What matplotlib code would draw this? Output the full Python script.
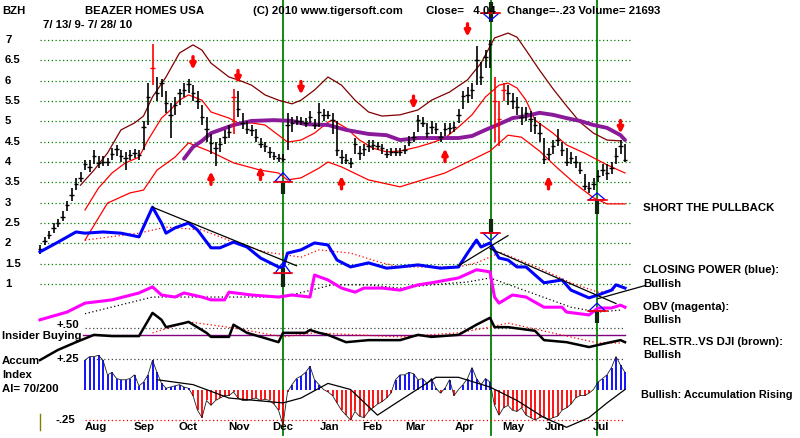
import numpy as np
import matplotlib.pyplot as plt

W, H = 800, 438

# --- Data (one bar every 2 sessions, 7/13/09 - 7/28/10) -------------------
bar_close = [1.85, 2.05, 2.2, 2.38, 2.5, 2.65, 2.95, 3.2, 3.45, 3.6,
             3.95, 3.88, 4.15, 3.97, 4.0, 4.0, 4.2, 4.32, 4.15, 4.1,
             4.17, 4.22, 4.17, 4.86, 5.6, 6.3, 5.7, 5.94, 5.45, 5.15,
             5.4, 5.7, 5.78, 5.92, 5.7, 5.5, 5.1, 4.8, 4.47, 4.35,
             4.45, 4.62, 4.75, 5.6, 5.3, 4.96, 4.82, 4.79, 4.62, 4.45,
             4.39, 4.25, 4.14, 4.1, 4.08, 4.9, 4.96, 5.02, 5.0, 4.96,
             5.1, 4.9, 5.22, 5.15, 5.15, 5.03, 4.3, 4.12, 4.06, 3.97,
             4.45, 4.22, 4.32, 4.4, 4.42, 4.4, 4.34, 4.2, 4.25, 4.25,
             4.25, 4.3, 4.5, 4.62, 5.03, 4.96, 4.72, 4.86, 4.8, 4.62,
             4.8, 4.84, 4.86, 5.15, 5.62, 5.65, 5.77, 6.5, 6.1, 6.58,
             6.9, 5.5, 5.05, 5.77, 5.7, 5.5, 5.35, 5.1, 5.2, 5.05,
             4.9, 4.72, 4.08, 4.2, 4.39, 4.55, 4.3, 4.0, 4.1, 4.0,
             3.8, 3.4, 3.35, 3.45, 3.65, 3.8, 3.73, 3.85, 4.15, 4.39, 4.04]
bar_high = [1.95, 2.15, 2.3, 2.5, 2.6, 2.8, 3.05, 3.35, 3.6, 3.75,
            4.05, 4.05, 4.3, 4.15, 4.15, 4.1, 4.35, 4.42, 4.3, 4.25,
            4.3, 4.32, 4.3, 5.0, 5.95, 6.9, 6.1, 6.05, 5.75, 5.45,
            5.6, 5.8, 5.95, 6.05, 5.9, 5.75, 5.4, 5.1, 4.7, 4.5,
            4.6, 4.78, 4.9, 5.8, 5.75, 5.2, 5.0, 4.92, 4.8, 4.6,
            4.5, 4.38, 4.25, 4.2, 4.2, 5.2, 5.1, 5.12, 5.1, 5.08,
            5.25, 5.05, 5.45, 5.3, 5.25, 5.2, 5.0, 4.3, 4.2, 4.1,
            4.6, 4.4, 4.45, 4.55, 4.55, 4.5, 4.45, 4.33, 4.35, 4.35,
            4.35, 4.42, 4.65, 4.75, 5.15, 5.1, 4.95, 5.0, 4.95, 4.75,
            4.95, 4.95, 4.98, 5.3, 5.75, 5.85, 5.95, 6.85, 6.45, 6.75,
            7.0, 6.1, 5.5, 5.95, 5.9, 5.7, 5.6, 5.35, 5.35, 5.25,
            5.1, 4.95, 4.6, 4.35, 4.55, 4.8, 4.5, 4.35, 4.25, 4.15,
            4.0, 3.7, 3.5, 3.6, 3.8, 3.95, 3.95, 4.0, 4.35, 4.55, 4.45]
bar_low = [1.75, 1.95, 2.1, 2.25, 2.4, 2.55, 2.8, 3.05, 3.3, 3.5,
           3.8, 3.75, 3.95, 3.85, 3.9, 3.9, 4.05, 4.15, 4.0, 3.8,
           4.05, 4.1, 4.05, 4.3, 4.9, 5.9, 5.5, 5.6, 5.2, 4.6,
           5.15, 5.4, 5.6, 5.7, 5.5, 5.3, 4.9, 4.5, 4.2, 3.9,
           4.25, 4.45, 4.6, 4.7, 5.1, 4.8, 4.7, 4.65, 4.5, 4.35,
           4.25, 4.1, 4.05, 4.0, 4.0, 4.3, 4.75, 4.9, 4.9, 4.85,
           4.95, 4.8, 4.85, 5.0, 5.05, 4.7, 4.15, 3.95, 3.95, 3.85,
           4.2, 4.05, 4.15, 4.25, 4.3, 4.3, 4.2, 4.1, 4.15, 4.15,
           4.15, 4.2, 4.4, 4.5, 4.75, 4.85, 4.6, 4.7, 4.7, 4.5,
           4.65, 4.7, 4.75, 4.95, 5.3, 5.45, 5.55, 5.9, 5.9, 6.3,
           6.3, 4.5, 4.4, 5.5, 5.4, 5.3, 5.15, 4.9, 5.0, 4.75,
           4.7, 4.5, 3.95, 4.05, 4.2, 4.4, 4.15, 3.9, 3.95, 3.85,
           3.7, 3.3, 3.25, 3.3, 3.5, 3.65, 3.55, 3.7, 3.95, 4.2, 4.0]
red_bars = [25, 43, 101, 102, 103]

upper_idx = [9, 12, 15, 18, 21, 23, 25, 28, 31, 34, 36, 38, 42, 44, 47, 50, 53, 56, 58, 61,
             64, 67, 70, 73, 76, 80, 84, 87, 91, 95, 98, 101, 104, 106, 108, 111, 114, 117,
             120, 123, 126, 129]
upper_val = [3.43, 3.80, 4.22, 4.79, 4.96, 5.13, 5.60, 6.09, 6.68, 6.88, 6.75, 6.43, 6.09, 6.02,
             5.89, 5.65, 5.52, 5.43, 5.52, 5.77, 6.09, 5.89, 5.52, 5.23, 5.13, 5.16, 5.28, 5.52,
             5.72, 6.02, 6.43, 7.05, 7.17, 7.07, 6.75, 6.26, 5.80, 5.38, 4.98, 4.71, 4.54, 4.52]
mid_idx = [10, 13, 16, 19, 22, 24, 27, 29, 31, 33, 36, 38, 42, 44, 47, 50, 53, 55, 58, 61, 64,
           65, 68, 71, 74, 77, 80, 84, 87, 90, 93, 96, 99, 102, 104, 106, 108, 110, 114, 117,
           121, 126, 130]
mid_val = [2.82, 3.36, 3.73, 3.98, 4.12, 4.54, 5.08, 5.28, 5.52, 5.65, 5.52, 5.23, 5.08, 4.96,
           4.96, 4.91, 4.66, 4.49, 4.54, 4.71, 4.98, 5.03, 4.84, 4.54, 4.34, 4.25, 4.27, 4.37,
           4.47, 4.59, 4.86, 5.16, 5.60, 5.89, 5.94, 5.82, 5.52, 5.03, 4.71, 4.42, 4.22, 3.93, 3.73]
lower_idx = [10, 15, 20, 23, 26, 30, 33, 38, 43, 49, 53, 55, 58, 62, 64, 67, 73, 80, 90, 100,
             104, 107, 111, 115, 119, 123, 126, 130]
lower_val = [2.08, 2.99, 3.24, 3.31, 3.80, 4.12, 4.47, 4.25, 3.98, 3.80, 3.73, 3.56, 3.61, 3.85,
             4.00, 3.88, 3.56, 3.39, 3.73, 4.27, 4.66, 4.61, 4.27, 3.85, 3.46, 3.12, 2.97, 2.97]
ma65_idx = [32, 34, 36, 38, 43, 47, 52, 56, 59, 64, 68, 73, 77, 80, 84, 89, 93, 96, 99, 102,
            105, 108, 111, 114, 117, 120, 123, 126, 129, 130]
ma65_val = [4.08, 4.37, 4.52, 4.71, 4.91, 5.01, 5.03, 5.01, 4.93, 4.91, 4.79, 4.69, 4.66, 4.54,
            4.59, 4.59, 4.59, 4.64, 4.79, 4.93, 5.08, 5.13, 5.21, 5.16, 5.08, 5.01, 4.91, 4.84,
            4.66, 4.54]

cp_idx = [0, 4, 8, 10, 14, 18, 22, 25, 27, 28, 30, 33, 35, 38, 40, 43, 46, 49, 53, 54, 55, 58,
          61, 64, 66, 69, 73, 77, 80, 84, 89, 93, 95, 97, 98, 100, 102, 104, 106, 108, 112, 116,
          118, 122, 124, 127, 128, 130]
cp_val = [1.79, 2.03, 2.28, 2.25, 2.28, 2.25, 2.16, 2.89, 2.50, 2.25, 2.38, 2.50, 2.33, 1.89,
          1.89, 2.03, 1.91, 1.64, 1.42, 1.40, 1.76, 1.84, 2.01, 1.96, 1.59, 1.42, 1.52, 1.39,
          1.42, 1.47, 1.39, 1.42, 1.76, 2.08, 1.91, 2.01, 1.64, 1.59, 1.42, 1.42, 1.03, 1.10,
          0.85, 0.66, 0.73, 0.85, 0.98, 0.90]
cp_ma_idx = [10, 22, 28, 36, 43, 50, 55, 58, 62, 69, 76, 80, 93, 97, 101, 102, 111, 118, 124, 128]
cp_ma_val = [2.08, 2.25, 2.40, 2.33, 2.03, 1.79, 1.71, 1.66, 1.84, 1.76, 1.52, 1.42, 1.42, 1.52,
             1.71, 1.79, 1.39, 1.03, 0.80, 0.85]

obv_idx = [0, 6, 10, 16, 22, 25, 27, 30, 32, 36, 38, 41, 42, 47, 53, 56, 60, 61, 64, 67, 70,
           72, 76, 80, 84, 87, 93, 97, 100, 101, 102, 105, 108, 112, 116, 117, 122, 124, 127,
           129, 130]
obv_val = [0.12, 0.31, 0.53, 0.61, 0.78, 0.93, 0.73, 0.68, 0.78, 0.68, 0.61, 0.61, 0.80, 0.73,
           0.68, 0.73, 0.68, 1.22, 1.10, 0.90, 0.80, 0.90, 0.90, 0.85, 0.98, 1.03, 1.15, 1.35,
           1.30, 0.68, 0.53, 0.73, 0.68, 0.43, 0.43, 0.31, 0.24, 0.41, 0.41, 0.48, 0.43]
obv_ma_idx = [10, 25, 43, 54, 65, 73, 80, 87, 95, 100, 118, 124, 129]
obv_ma_val = [0.27, 0.68, 0.68, 0.68, 0.98, 0.98, 0.90, 0.98, 1.05, 1.15, 0.43, 0.31, 0.36]

rs_idx = [0, 4, 8, 12, 16, 22, 25, 27, 28, 32, 33, 37, 38, 42, 43, 46, 50, 53, 54, 59, 60, 62,
          64, 68, 73, 80, 84, 87, 93, 97, 100, 101, 104, 110, 112, 117, 122, 126, 129, 130]
rs_val = [-0.87, -0.62, -0.43, -0.25, -0.28, -0.28, 0.29, 0.12, -0.06, 0.04, 0.07, -0.20,
          -0.30, -0.30, 0.00, -0.20, -0.33, -0.43, -0.20, -0.20, -0.13, -0.20, -0.25, -0.43,
          -0.38, -0.38, -0.25, -0.30, -0.25, 0.00, 0.17, -0.06, -0.06, -0.15, -0.38, -0.43,
          -0.55, -0.45, -0.38, -0.43]
rs_ma_idx = [25, 33, 43, 54, 61, 80, 93, 100, 104, 113, 124, 129]
rs_ma_val = [-0.20, 0.07, -0.08, -0.30, -0.20, -0.30, -0.20, -0.06, 0.04, -0.18, -0.45, -0.45]
insider_level = -0.26
rs_ref_level = -0.08

ai_start = 10
ai_val = [0.24, 0.27, 0.27, 0.28, 0.24, 0.12, 0.14, 0.09, 0.08, 0.08,
          0.09, 0.12, 0.03, 0.06, 0.12, 0.24, 0.14, 0.05, 0.01, 0.02,
          0.03, 0.04, 0.02, 0.01, -0.05, -0.17, -0.23, -0.09, -0.13, -0.09,
          -0.07, -0.05, -0.05, -0.02, -0.07, -0.09, -0.09, -0.08, -0.07, -0.09,
          -0.08, -0.09, -0.12, -0.17, -0.29, -0.02, 0.04, 0.09, 0.11, 0.14,
          0.19, 0.08, 0.04, 0.00, -0.02, -0.05, -0.11, -0.17, -0.21, -0.25,
          -0.18, -0.22, -0.23, -0.18, -0.15, -0.12, -0.10, -0.07, -0.03, 0.08,
          0.12, 0.12, 0.14, 0.13, 0.08, 0.09, 0.05, 0.09, 0.01, -0.03,
          0.01, 0.08, -0.05, 0.00, 0.04, 0.09, 0.18, 0.09, 0.04, 0.09,
          0.06, -0.13, -0.21, -0.15, -0.13, -0.17, -0.18, -0.15, -0.21, -0.23,
          -0.25, -0.23, -0.22, -0.25, -0.23, -0.22, -0.17, -0.15, -0.12, -0.07,
          -0.05, -0.05, -0.03, 0.00, 0.06, 0.09, 0.12, 0.18, 0.27, 0.20, 0.14]
ai_ma_idx = [26, 34, 42, 54, 58, 64, 69, 75, 80, 88, 93, 100, 106, 112, 117, 122, 126, 130]
ai_ma_val = [0.08, 0.04, -0.07, -0.11, -0.07, 0.05, 0.00, -0.21, -0.09, 0.10, 0.10, 0.02,
             -0.09, -0.23, -0.31, -0.23, -0.11, 0.00]

trend_lines = [((25, 2.89), (57, 1.45)),
               ((93, 1.45), (104, 2.19)),
               ((100, 1.87), (128, 0.52)),
               ((124, 0.64), (134.4, 0.96))]

signal_idx = [54, 100.2, 123.8]
# idx, triangle base, triangle apex, bar top, bar bottom
signal_marks = [(54, 3.52, 3.74, 3.52, 3.22),
                (54, 1.26, 1.53, 1.40, 0.93),
                (100.2, 7.66, 7.49, 7.93, 7.44),
                (100.2, 2.26, 2.07, 2.61, 2.24),
                (123.8, 3.07, 3.24, 3.07, 2.73),
                (123.8, 0.34, 0.53, 0.34, 0.04)]

sell_idx = [34, 44, 58, 83, 95, 129]
sell_val = [6.43, 6.09, 5.82, 5.46, 7.24, 4.86]
buy_idx = [38, 49, 67, 90, 113]
buy_val = [3.61, 3.73, 3.50, 4.17, 3.50]

price_levels = [7, 6.5, 6, 5.5, 5, 4.5, 4, 3.5, 3, 2.5, 2, 1.5, 1]
price_labels = ["7", "6.5", "6", "5.5", "5", "4.5", "4", "3.5", "3", "2.5", "2", "1.5", "1"]
month_names = ["Aug", "Sep", "Oct", "Nov", "Dec", "Jan", "Feb", "Mar", "Apr", "May", "Jun", "Jul"]
month_idx = [10, 20.7, 30.7, 41.8, 51.6, 62.2, 71.6, 81.1, 92.2, 102.7, 112.2, 122.9]

# --- Figure ----------------------------------------------------------------
plt.rcParams['font.family'] = ['Liberation Sans', 'DejaVu Sans']
plt.rcParams['font.size'] = 8.2
plt.rcParams['font.weight'] = 'bold'

fig = plt.figure(figsize=(W / 100, H / 100), dpi=100)
ax = fig.add_axes([0, 0, 1, 1])
ax.set_xlim(-40 / 4.5, 760 / 4.5)
ax.set_ylim(7 - 398 / 40.67, 7 + 40 / 40.67)
ax.axis('off')

ax_ai = fig.add_axes([0, 0, 1, 1], label='ai')
ax_ai.set_xlim(ax.get_xlim())
ax_ai.set_ylim(-48.5 / 122, 389.5 / 122)
ax_ai.axis('off')
ax_ai.patch.set_visible(False)

dots = (0, (1, 2))
last = len(bar_close) - 1

# grid
for lv in price_levels:
    ax.plot([0, last + 1.5], [lv, lv], color='#008000', lw=0.9, ls=dots)
ax.plot([10, last], [rs_ref_level] * 2, color='#404040', lw=0.9, ls=dots)
ax_ai.plot([10, last], [0.25, 0.25], color='#404040', lw=0.9, ls=dots)
ax_ai.plot([10, last], [-0.25, -0.25], color='#ff0000', lw=0.9, ls=dots)
ax.plot([9.5, last], [insider_level] * 2, color='#800080', lw=1.0)

# signal verticals
for s in signal_idx:
    ax.axvline(s, ymin=3 / H, ymax=1.0, color='#008000', lw=1.3)

# bands
ax.plot(upper_idx, upper_val, color='#800000', lw=0.9)
ax.plot(mid_idx, mid_val, color='#ff0000', lw=0.9)
ax.plot(lower_idx, lower_val, color='#ff0000', lw=0.9)
ax.plot(ma65_idx, ma65_val, color='#8a1a9a', lw=2.8, solid_capstyle='round')

# price bars
x = np.arange(len(bar_close))
cols = ['#ff0000' if i in red_bars else 'black' for i in x]
ax.vlines(x, bar_low, bar_high, colors=cols, lw=1.2)
ax.hlines(bar_close, x - 0.45, x + 0.45, colors=cols, lw=1.0)

# indicators
ax.plot(cp_ma_idx, cp_ma_val, color='#ff0000', lw=0.9, ls=dots)
ax.plot(obv_ma_idx, obv_ma_val, color='black', lw=0.9, ls=dots)
ax.plot(rs_ma_idx, rs_ma_val, color='#ff0000', lw=0.9, ls=dots)
ax.plot(obv_idx, obv_val, color='#ff00ff', lw=2.2)
ax.plot(rs_idx, rs_val, color='black', lw=1.8)
ax.plot(cp_idx, cp_val, color='#0000ff', lw=2.2)
for (x0, y0), (x1, y1) in trend_lines:
    ax.plot([x0, x1], [y0, y1], color='black', lw=0.9)

# accumulation index
ai_x = np.arange(ai_start, ai_start + len(ai_val))
ai = np.array(ai_val)
ax_ai.vlines(ai_x, 0, ai, colors=np.where(ai >= 0, '#0000ff', '#ff0000'), lw=1.3)
ax_ai.plot(ai_x, ai, color='#202020', lw=0.6)
ax_ai.plot(ai_ma_idx, ai_ma_val, color='black', lw=0.9)

# signal markers
for idx, base, apex, top, bot in signal_marks:
    ax.plot([idx, idx], [top, bot], color='#102810', lw=3.0, solid_capstyle='butt')
    ax.plot([idx - 1.8, idx, idx + 1.8, idx - 1.8], [base, apex, base, base], color='#0000ff', lw=0.9)
    ax.plot([idx - 2.1, idx + 2.1], [base, base], color='#ff0000', lw=1.2)

# buy / sell arrows
arrow = dict(arrowstyle='-|>', color='#ff0000', lw=2.4, mutation_scale=8, shrinkA=0, shrinkB=0)
for i, v in zip(sell_idx, sell_val):
    ax.annotate('', xy=(i, v - 0.16), xytext=(i, v + 0.16), arrowprops=arrow)
for i, v in zip(buy_idx, buy_val):
    ax.annotate('', xy=(i, v + 0.16), xytext=(i, v - 0.16), arrowprops=arrow)

# olive tick at start
ax.plot([0, 0], [-2.2, -2.6], color='#808000', lw=1.0)

# --- Text --------------------------------------------------------------------
def put(px, py, s, **kw):
    fig.text(px / W, 1 - py / H, s, va='center', ha='left', **kw)

put(2, 11, "BZH")
put(85, 11, "BEAZER HOMES USA")
put(253, 11, "(C) 2010 www.tigersoft.com")
put(426, 11, "Close=   4.04")
put(507, 11, "Change=-.23 Volume= 21693")
put(43, 25, "7/ 13/ 9- 7/ 28/ 10")

for lv, lab in zip(price_levels, price_labels):
    ax.text(5 / W, lv, lab, transform=ax.get_yaxis_transform(), va='center', ha='left')
for m, mi in zip(month_names, month_idx):
    ax.text(mi, 1 - 427 / H, m, transform=ax.get_xaxis_transform(), va='center', ha='left')

put(56, 325, "+.50")
put(2, 336, "Insider Buying")
put(2, 361, "Accum")
put(57, 359, "+.25")
put(2, 375, "Index")
put(2, 389, "AI= 70/200")
put(55, 420, "-.25")

put(643, 208, "SHORT THE PULLBACK")
put(643, 270, "CLOSING POWER (blue):")
put(643, 284, "Bullish")
put(643, 307, "OBV (magenta):")
put(643, 320, "Bullish")
put(643, 342, "REL.STR..VS DJI (brown):")
put(643, 355, "Bullish")
put(641, 395, "Bullish: Accumulation Rising", fontsize=7.8)

fig.savefig("out.png", dpi=100)
